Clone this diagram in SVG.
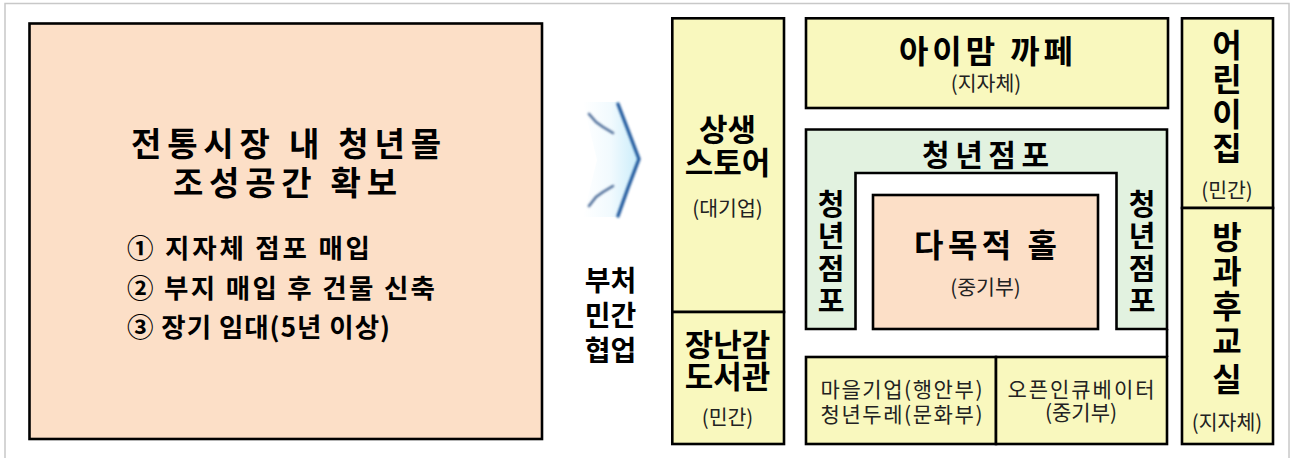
<svg xmlns="http://www.w3.org/2000/svg" width="1291" height="458" viewBox="0 0 1291 458">
<style>
  .box { stroke: #000; stroke-width: 2.6; }
  .yel { fill: #f9f8be; }
  .pch { fill: #fcdfc7; }
  .grn { fill: #e2f2e0; }
  text { font-family: "Noto Sans CJK KR", "Noto Sans", sans-serif; fill: #000; }
  .b { font-weight: bold; }
  .big { font-size: 31px; font-weight: bold; text-anchor: middle; }
  .vt { font-size: 32px; font-weight: bold; text-anchor: middle; }
  .sub { font-size: 20.5px; fill: #222; text-anchor: middle; }
  .sm { font-size: 21px; fill: #222; }
  .mid { text-anchor: middle; }
</style>
<defs>
  <linearGradient id="arrowFill" x1="0" y1="0" x2="1" y2="0">
    <stop offset="0" stop-color="#ffffff"/>
    <stop offset="0.5" stop-color="#f1fafe"/>
    <stop offset="1" stop-color="#c9ecfa"/>
  </linearGradient>
  <filter id="blur" x="-30%" y="-20%" width="160%" height="140%">
    <feGaussianBlur stdDeviation="1.2"/>
  </filter>
</defs>

<rect x="5" y="3.5" width="1284" height="470" fill="none" stroke="#c8c8c8" stroke-width="1.5"/>

<g id="left-box">
  <rect class="box pch" x="29.5" y="23.5" width="512.5" height="415.5"/>
  <text class="b" x="131" y="155.5" font-size="33" textLength="310" lengthAdjust="spacing">전통시장 내 청년몰</text>
  <text class="b" x="173" y="195" font-size="33" textLength="224" lengthAdjust="spacing">조성공간 확보</text>
  <text class="b" x="127" y="258" font-size="26.5" textLength="243" lengthAdjust="spacing">① 지자체 점포 매입</text>
  <text class="b" x="127" y="298" font-size="26.5" textLength="308" lengthAdjust="spacing">② 부지 매입 후 건물 신축</text>
  <text class="b" x="127" y="337" font-size="26.5" textLength="263" lengthAdjust="spacing">③ 장기 임대(5년 이상)</text>
</g>

<g id="arrow">
  <path d="M583,102 L617,102 L639,159 L617,217 L583,217 L597,160 Z" fill="url(#arrowFill)"/>
  <g filter="url(#blur)" fill="none" stroke="#245a9e" stroke-width="3.4" stroke-linejoin="round" stroke-linecap="round">
    <path d="M618,104 L628,130 L639,159 L628,188 L618,216"/>
    <path d="M589,114 L596,122 L603,127 L613,133" stroke="#4f6e9a" stroke-width="2.6"/>
    <path d="M589,206 L596,197 L603,192 L613,186" stroke="#4f6e9a" stroke-width="2.6"/>
  </g>
</g>

<g id="label-cooperation">
  <text class="b mid" font-size="28"><tspan x="610.5" y="291">부처</tspan><tspan x="610.5" y="326">민간</tspan><tspan x="610.5" y="360.5">협업</tspan></text>
</g>

<g id="store">
  <rect class="box yel" x="672.3" y="18.3" width="111.7" height="293.7"/>
  <text class="big"><tspan x="727.5" y="140.5">상생</tspan><tspan x="727.5" y="173.5">스토어</tspan></text>
  <text class="sub" x="727.5" y="215.5">(대기업)</text>
</g>

<g id="toy-library">
  <rect class="box yel" x="672.3" y="312" width="111.7" height="132"/>
  <text class="big"><tspan x="727.5" y="355.5">장난감</tspan><tspan x="727.5" y="387.5">도서관</tspan></text>
  <text class="sub" x="727.5" y="425">(민간)</text>
</g>

<g id="cafe">
  <rect class="box yel" x="806" y="18.3" width="362" height="89.7"/>
  <text class="b" x="899" y="62.5" font-size="32" textLength="174" lengthAdjust="spacing">아이맘 까페</text>
  <text class="sub" x="986" y="91">(지자체)</text>
</g>

<g id="youth-shops">
  <path class="box grn" d="M806,129.5 H1167 V329 H1116.5 V173 H855.5 V329 H806 Z"/>
  <text class="b" x="922" y="165.5" font-size="30" textLength="127" lengthAdjust="spacing">청년점포</text>
  <text class="b mid" font-size="29"><tspan x="831" y="214.5">청</tspan><tspan x="831" y="246.5">년</tspan><tspan x="831" y="279.5">점</tspan><tspan x="831" y="312">포</tspan></text>
  <text class="b mid" font-size="29"><tspan x="1142" y="214.5">청</tspan><tspan x="1142" y="246.5">년</tspan><tspan x="1142" y="279.5">점</tspan><tspan x="1142" y="312">포</tspan></text>
</g>

<g id="hall">
  <rect class="box pch" x="873" y="195" width="225" height="134"/>
  <text class="b" x="914" y="256.5" font-size="32" textLength="143" lengthAdjust="spacing">다목적 홀</text>
  <text class="sub" x="985.5" y="294.5">(중기부)</text>
</g>

<g id="village">
  <rect class="box yel" x="806" y="357" width="190" height="87"/>
  <text class="sm"><tspan x="820.5" y="396.5" textLength="162" lengthAdjust="spacing">마을기업(행안부)</tspan><tspan x="820.5" y="421.5" textLength="162" lengthAdjust="spacing">청년두레(문화부)</tspan></text>
</g>

<g id="incubator">
  <rect class="box yel" x="996" y="357" width="171" height="87"/>
  <text class="sm"><tspan x="1007.5" y="396.5" textLength="147" lengthAdjust="spacing">오픈인큐베이터</tspan><tspan x="1081" y="420" text-anchor="middle">(중기부)</tspan></text>
</g>

<g id="connectors">
  <line x1="1167" y1="329" x2="1167" y2="357" stroke="#000" stroke-width="2.6"/>
</g>

<g id="daycare">
  <rect class="box yel" x="1182" y="18.3" width="91" height="189.7"/>
  <text class="vt"><tspan x="1227" y="56.5">어</tspan><tspan x="1227" y="90.5">린</tspan><tspan x="1227" y="125.5">이</tspan><tspan x="1227" y="159.5">집</tspan></text>
  <text class="sub" x="1227" y="198">(민간)</text>
</g>

<g id="after-school">
  <rect class="box yel" x="1182" y="208" width="91" height="236"/>
  <text class="vt"><tspan x="1227" y="249">방</tspan><tspan x="1227" y="283">과</tspan><tspan x="1227" y="318">후</tspan><tspan x="1227" y="353">교</tspan><tspan x="1227" y="391">실</tspan></text>
  <text class="sub" x="1227" y="429.5">(지자체)</text>
</g>
</svg>
